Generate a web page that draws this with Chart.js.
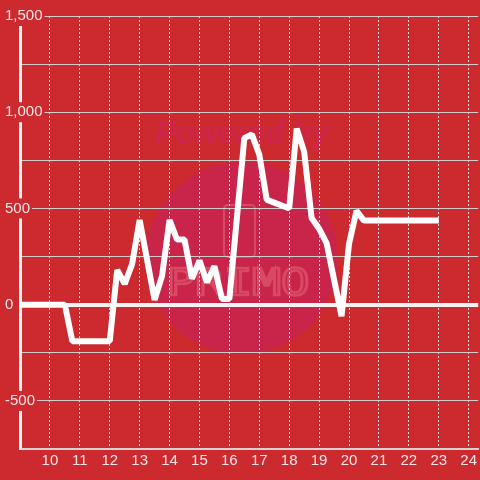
<!DOCTYPE html>
<html>
<head>
<meta charset="utf-8">
<script src="https://cdn.jsdelivr.net/npm/chart.js@4/dist/chart.umd.min.js"></script>
<style>
    html, body { margin: 0; padding: 0; background: #cc2a2f; }
    canvas { display: block; }
</style>
</head>
<body>
<canvas id="chart" width="480" height="480"></canvas>
<script>
// hours of the day and the value at each turning point
const times = [9, 10.5, 10.75, 12, 12.25, 12.5, 12.75, 13, 13.5, 13.75, 14, 14.25, 14.5, 14.75, 15, 15.25, 15.5, 15.75, 16, 16.5, 16.75, 17, 17.25, 17.5, 17.75, 18, 18.25, 18.5, 18.75, 19, 19.25, 19.75, 20, 20.25, 20.5, 23];
const values = [0, 0, -190, -190, 180, 108, 212, 440, 25, 150, 440, 338, 338, 135, 229, 116, 200, 30, 30, 865, 885, 780, 545, 530, 515, 500, 915, 795, 450, 395, 320, -60, 316, 487, 437, 437];

const yLabelSteps = 500;
const bg = '#cc2a2f';

// faint "Powered by PRIMO" watermark behind the grid
const watermark = {
    id: 'watermark',
    beforeDraw(chart) {
        const c = chart.ctx;
        c.save();
        c.fillStyle = bg;
        c.fillRect(0, 0, chart.width, chart.height);
        c.fillStyle = 'rgba(200, 36, 80, 0.85)';
        c.beginPath();
        c.arc(242, 258, 96, 0, Math.PI * 2);
        c.fill();

        c.fillStyle = 'rgba(205, 38, 78, 0.9)';
        c.font = 'italic bold 31px "Liberation Sans"';
        c.textAlign = 'center';
        c.textBaseline = 'middle';
        c.fillText('Powered by', 242, 134);

        c.strokeStyle = 'rgba(235, 120, 130, 0.45)';
        c.lineWidth = 2;
        c.beginPath();
        c.roundRect(224, 205, 31, 52, 4);
        c.stroke();
        c.translate(238, 285);
        c.scale(1.25, 1);
        c.lineWidth = 2.5;
        c.font = '38px "DejaVu Sans Mono"';
        c.strokeText('PRIMO', 0, 0);
        c.restore();
    }
};

new Chart(document.getElementById('chart'), {
    type: 'line',
    data: {
        datasets: [{
            data: times.map((t, i) => ({x: t, y: values[i]})),
            borderColor: '#ffffff',
            borderWidth: 6,
            borderJoinStyle: 'bevel',
            pointRadius: 0,
            tension: 0,
            fill: false
        }]
    },
    options: {
        responsive: false,
        animation: false,
        layout: { padding: { left: 5, top: 16, right: 0, bottom: 7 } },
        plugins: { legend: { display: false }, tooltip: { enabled: false } },
        scales: {
            x: {
                type: 'linear',
                min: 9,
                max: 24.32,
                grid: {
                    color: 'rgba(240, 240, 240, 0.9)',
                    lineWidth: 1,
                    drawTicks: false
                },
                border: { color: '#d2d2d2', width: 2, dash: [2, 2] },
                ticks: {
                    stepSize: 1,
                    includeBounds: false,
                    padding: 3,
                    color: 'rgba(255, 255, 255, 0.88)',
                    font: { family: '"Liberation Sans"', size: 15 },
                    maxRotation: 0,
                    autoSkip: false,
                    callback: v => (v >= 10 && Number.isInteger(v)) ? String(v) : ''
                }
            },
            y: {
                min: -750,
                max: 1500,
                afterFit: scale => { scale.width = 15; },
                grid: {
                    color: ctx => ctx.tick && ctx.tick.value === 0 ? '#f4f4f4' : '#d0cccc',
                    lineWidth: ctx => ctx.tick && ctx.tick.value === 0 ? 4 : 1,
                    drawTicks: false
                },
                border: { color: '#f4f4f4', width: 3 },
                ticks: {
                    stepSize: 250,
                    mirror: true,
                    padding: -15,
                    color: 'rgba(255, 255, 255, 0.88)',
                    font: { family: '"Liberation Sans"', size: 15 },
                    showLabelBackdrop: true,
                    backdropColor: ctx => ctx.tick && ctx.tick.value % yLabelSteps === 0 ? bg : 'rgba(0,0,0,0)',
                    backdropPadding: { left: 1, right: 2, top: 1, bottom: 1 },
                    callback: v => v % yLabelSteps === 0 ? v.toLocaleString('en-US') : ''
                }
            }
        }
    },
    plugins: [watermark]
});
</script>
</body>
</html>
